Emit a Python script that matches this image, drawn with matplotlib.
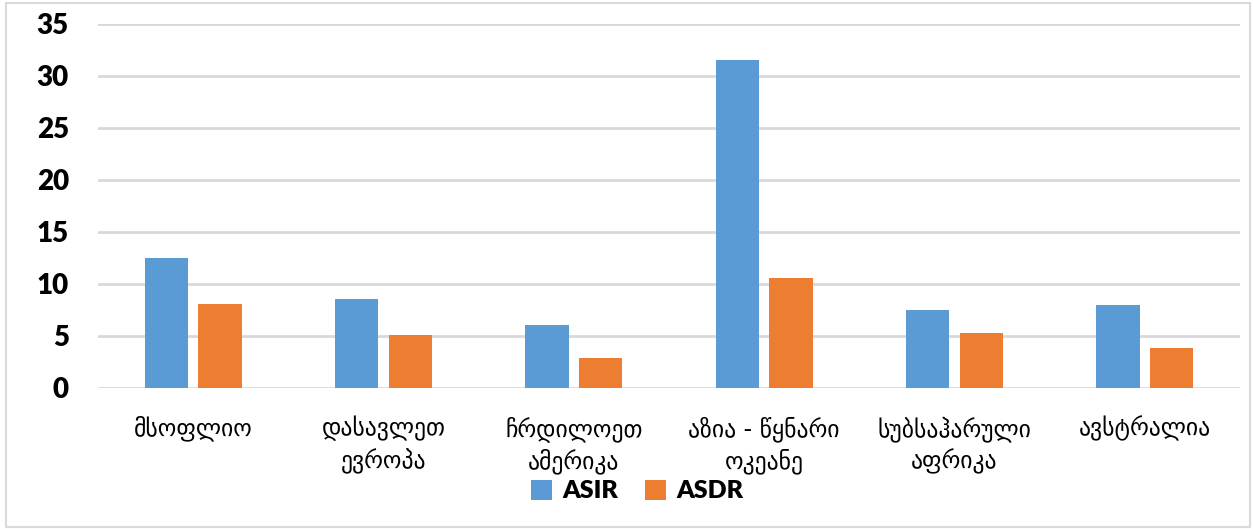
import matplotlib; matplotlib.use("Agg")
import matplotlib.pyplot as plt
import numpy as np
from matplotlib.patches import Rectangle

regions = ["მსოფლიო", "დასავლეთ\nევროპა", "ჩრდილოეთ\nამერიკა",
           "აზია - წყნარი\nოკეანე", "სუბსაჰარული\nაფრიკა", "ავსტრალია"]
asir = [12.5, 8.6, 6.1, 31.5, 7.5, 8.0]
asdr = [8.1, 5.1, 2.9, 10.6, 5.3, 3.8]
yticks = [0, 5, 10, 15, 20, 25, 30, 35]

plt.rcParams['font.family'] = ['Lato', 'DejaVu Sans']
fig = plt.figure(figsize=(12.53, 5.29), dpi=100)
ax = fig.add_axes([98/1253, 141/529, 1142/1253, 364/529])
x = np.arange(len(regions))
w = 0.226
ax.bar(x - 0.141, asir, w, color="#5b9bd5", label="ASIR", zorder=3)
ax.bar(x + 0.141, asdr, w, color="#ed7d31", label="ASDR", zorder=3)
ax.set_xlim(-0.5, len(regions) - 0.5)
ax.set_ylim(0, 35)
ax.set_yticks(yticks)
ax.set_yticklabels([str(t) for t in yticks], fontsize=20, fontweight="heavy")
ax.set_xticks(x)
ax.set_xticklabels(regions, fontsize=17, linespacing=1.35, family=['DejaVu Sans'])
ax.tick_params(axis="both", length=0)
ax.tick_params(axis="y", pad=21)
ax.tick_params(axis="x", pad=20)
ax.grid(axis="y", color="#d9d9d9", linewidth=2, zorder=0)
for s in ax.spines.values():
    s.set_visible(False)
leg = fig.legend(loc="center", bbox_to_anchor=(637/1253, 1 - 491/529), ncol=2, frameon=False,
                 prop={'size': 18, 'weight': 'heavy'}, handlelength=0.85, handleheight=0.85,
                 handletextpad=0.4, columnspacing=1.1)
fig.patches.append(Rectangle((6/1253, 2/529), 1244/1253, 524/529, transform=fig.transFigure,
                             fill=False, edgecolor="#d9d9d9", linewidth=1.5))
fig.savefig("out.png", dpi=100)
